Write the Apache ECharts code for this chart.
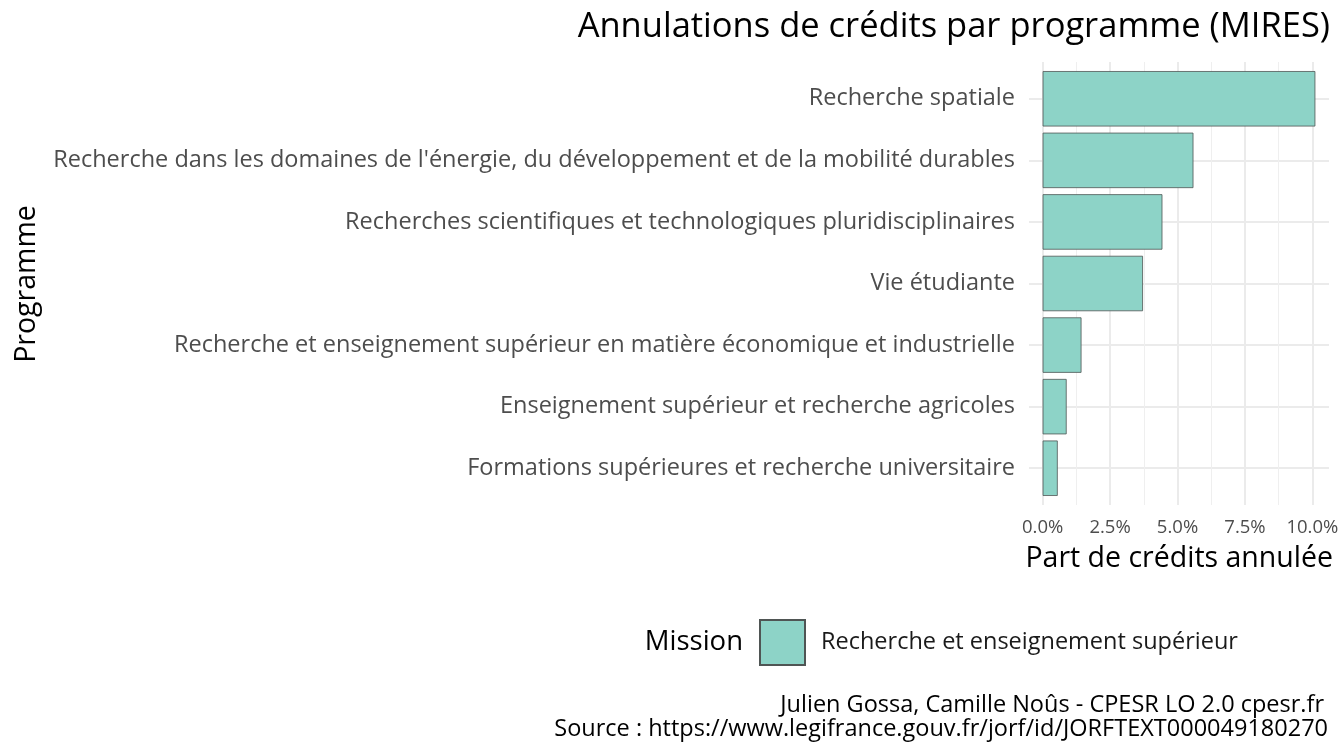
<!DOCTYPE html>
<html><head><meta charset="utf-8">
<script src="https://cdn.jsdelivr.net/npm/echarts@6/dist/echarts.min.js"></script>
<style>html,body{margin:0;padding:0;background:#fff}#c{width:1344px;height:756px}</style>
</head><body><div id="c"></div>
<script>
// Programmes (bottom to top)
const categories = [
  "Formations supérieures et recherche universitaire",
  "Enseignement supérieur et recherche agricoles",
  "Recherche et enseignement supérieur en matière économique et industrielle",
  "Vie étudiante",
  "Recherches scientifiques et technologiques pluridisciplinaires",
  "Recherche dans les domaines de l'énergie, du développement et de la mobilité durables",
  "Recherche spatiale"
];
// Part de crédits annulée (%)
const values = [0.56, 0.89, 1.44, 3.72, 4.44, 5.59, 10.11];
const majorTicks = [0, 2.5, 5, 7.5, 10];
const minorTicks = [1.25, 3.75, 6.25, 8.75];
const missionName = "Recherche et enseignement supérieur";

const FONT = "'Open Sans'";
const maxV = Math.max(...values);
const xMin = -0.05 * maxV, xMax = maxV * 1.05;
const catIdx = categories.map((_, i) => i);

const chart = echarts.init(document.getElementById('c'), null, {renderer: 'canvas'});
chart.setOption({
  backgroundColor: '#fff',
  textStyle: {fontFamily: FONT},
  title: {
    text: 'Annulations de crédits par programme (MIRES)',
    right: 14, top: 10, padding: 0,
    textStyle: {fontFamily: FONT, fontSize: 34.5, fontWeight: 'normal', color: '#000'}
  },
  legend: {
    data: [missionName],
    left: 759, top: 619, padding: 0,
    itemWidth: 45, itemHeight: 45,
    icon: 'rect',
    textStyle: {fontFamily: FONT, fontSize: 23.5, color: '#1a1a1a', padding: [0, 0, 0, 11]}
  },
  grid: [
    {left: 1029, right: 15, top: 68, bottom: 257},
    {left: 1029, right: 15, top: 62, bottom: 251}
  ],
  xAxis: [
    {gridIndex: 1, type: 'value', min: xMin, max: xMax, position: 'bottom',
     axisLine: {show: false}, axisTick: {show: false, customValues: majorTicks},
     axisLabel: {customValues: majorTicks, formatter: v => v.toFixed(1) + '%',
                 color: '#4D4D4D', fontSize: 18.5, fontFamily: FONT, margin: 13},
     splitLine: {show: true, lineStyle: {color: '#EBEBEB', width: 2}}},
    {gridIndex: 1, type: 'value', min: xMin, max: xMax, position: 'bottom',
     axisLine: {show: false}, axisTick: {show: false, customValues: minorTicks},
     axisLabel: {show: false, customValues: minorTicks},
     splitLine: {show: true, lineStyle: {color: '#EFEFEF', width: 1}}},
    {gridIndex: 0, type: 'value', min: xMin, max: xMax,
     axisLine: {show: false}, axisTick: {show: false}, axisLabel: {show: false},
     splitLine: {show: false}}
  ],
  yAxis: [
    {gridIndex: 1, type: 'value', min: -0.6, max: categories.length - 1 + 0.6,
     axisLine: {show: false}, axisTick: {show: false, customValues: catIdx},
     axisLabel: {show: false, customValues: catIdx},
     splitLine: {show: true, lineStyle: {color: '#EBEBEB', width: 2}}},
    {gridIndex: 0, type: 'category', data: categories,
     axisLine: {show: false}, axisTick: {show: false},
     axisLabel: {color: '#4D4D4D', fontSize: 23.5, fontFamily: FONT, margin: 14, padding: [8, 0, 0, 0]},
     splitLine: {show: false}}
  ],
  series: [{
    name: missionName,
    type: 'bar',
    xAxisIndex: 2, yAxisIndex: 1,
    data: values,
    barWidth: '90%',
    itemStyle: {color: '#8DD3C7', borderColor: '#4f5554', borderWidth: 0.8},
    silent: true
  }],
  graphic: [
    {type: 'text', x: 27, y: 284, rotation: Math.PI / 2,
     style: {text: 'Programme', font: '28.5px ' + FONT, fill: '#000', align: 'center', verticalAlign: 'middle'}},
    {type: 'text', x: 1333, y: 559,
     style: {text: 'Part de crédits annulée', font: '28.5px ' + FONT, fill: '#000', align: 'right', verticalAlign: 'middle'}},
    {type: 'text', x: 743, y: 642,
     style: {text: 'Mission', font: '27.5px ' + FONT, fill: '#000', align: 'right', verticalAlign: 'middle'}},
    {type: 'text', x: 1324, y: 705,
     style: {text: 'Julien Gossa, Camille Noûs - CPESR LO 2.0 cpesr.fr', font: '23.5px ' + FONT, fill: '#000', align: 'right', verticalAlign: 'middle'}},
    {type: 'text', x: 1328, y: 729,
     style: {text: 'Source : https://www.legifrance.gouv.fr/jorf/id/JORFTEXT000049180270', font: '23.5px ' + FONT, fill: '#000', align: 'right', verticalAlign: 'middle'}}
  ]
});
</script></body></html>
